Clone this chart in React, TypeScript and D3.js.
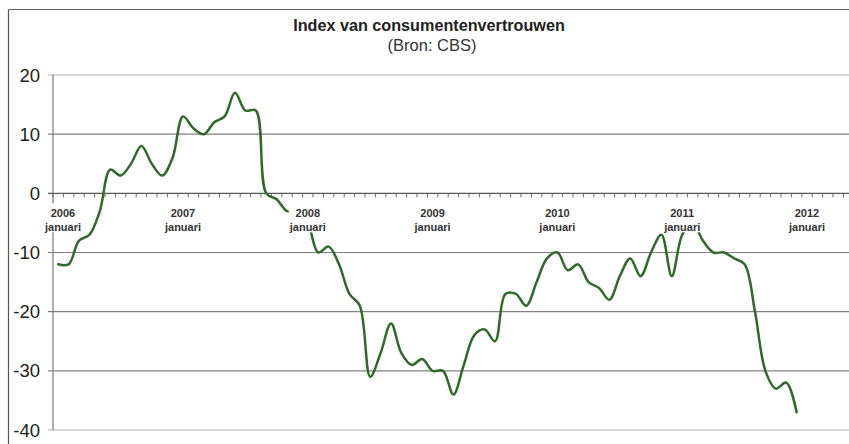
import React from "react";
import * as d3 from "d3";

const years = ["2006", "2007", "2008", "2009", "2010", "2011", "2012"];
const monthLabel = "januari";
const yTicks = [20, 10, 0, -10, -20, -30, -40];
// Monthly consumer confidence, Jan 2006 .. Dec 2011
const values = [
  -12, -12, -8, -7, -3, 4, 3, 5, 8, 5, 3, 6,
  13, 11, 10, 12, 13, 17, 14, 14, 0, -1, -3, -3,
  -5, -10, -9, -12, -17, -19, -31, -27, -22, -27, -29, -28,
  -30, -30, -34, -29, -24, -23, -25, -17, -17, -19, -15, -11,
  -10, -13, -12, -15, -16, -18, -14, -11, -14, -10, -7, -14,
  -7, -5, -8, -10, -10, -11, -12, -20, -30, -33, -32, -37,
];

const W = 849;
const H = 444;
const axisLeft = 53;
const step = 10.4;
const nCats = 78;

export default function App() {
  const x = d3.scaleLinear().domain([-0.5, nCats - 0.5]).range([axisLeft, axisLeft + nCats * step]);
  const y = d3.scaleLinear().domain([20, -40]).range([75, 430]);
  const line = d3
    .line<number>()
    .x((_, i) => x(i))
    .y((d) => y(d))
    .curve(d3.curveCatmullRom.alpha(0.5));
  const ticks = d3.range(0, nCats + 1);
  const font = "'Liberation Sans', Arial, sans-serif";
  return (
    <svg
      width={W}
      height={H}
      style={{ position: "absolute", left: 0, top: 0, background: "#fff" }}
      fontFamily={font}
    >
      <rect x={0} y={0} width={W} height={H} fill="#fff" />
      {/* outer border */}
      <line x1={8.5} y1={9.5} x2={W} y2={9.5} stroke="#666" strokeWidth={1.2} />
      <line x1={8.5} y1={9.5} x2={8.5} y2={H} stroke="#555" strokeWidth={1.2} />
      {/* title */}
      <text x={429} y={31} textAnchor="middle" fontWeight="bold" fontSize={16.2} fill="#222">
        Index van consumentenvertrouwen
      </text>
      <text x={432} y={51} textAnchor="middle" fontSize={16.5} fill="#333">
        (Bron: CBS)
      </text>
      {/* gridlines */}
      {yTicks.map((t) => (
        <g key={t}>
          <line
            x1={axisLeft - 5}
            x2={W}
            y1={y(t)}
            y2={y(t)}
            stroke={t === 20 || t === -40 ? "#b0b0b0" : t === 0 ? "#555" : "#808080"}
            strokeWidth={t === 0 ? 1.3 : 1.2}
          />
          <text
            x={40}
            y={y(t)}
            dy="0.36em"
            textAnchor="end"
            fontSize={18.5}
            fill="#222"
          >
            {t}
          </text>
        </g>
      ))}
      {/* y axis */}
      <line x1={axisLeft} x2={axisLeft} y1={y(20)} y2={y(-40)} stroke="#777" strokeWidth={1.2} />
      {/* x axis ticks */}
      {ticks.map((k) => (
        <line
          key={k}
          x1={x(k - 0.5)}
          x2={x(k - 0.5)}
          y1={y(0)}
          y2={y(0) + 4}
          stroke="#666"
          strokeWidth={1}
        />
      ))}
      {/* data line */}
      <path d={line(values) ?? ""} fill="none" stroke="#2f6a2a" strokeWidth={2.5} strokeLinejoin="round" strokeLinecap="round" />
      {/* x labels */}
      {years.map((yr, j) => {
        const cx = Math.max(x(j * 12), axisLeft + 10);
        return (
          <g key={yr}>
            <rect x={cx - 19} y={y(0) + 10} width={38} height={29} fill="#fff" />
            <text x={cx} y={y(0) + 24} textAnchor="middle" fontWeight="bold" fontSize={11} fill="#333">
              {yr}
            </text>
            <text x={cx} y={y(0) + 38} textAnchor="middle" fontWeight="bold" fontSize={11} fill="#333">
              {monthLabel}
            </text>
          </g>
        );
      })}
    </svg>
  );
}
